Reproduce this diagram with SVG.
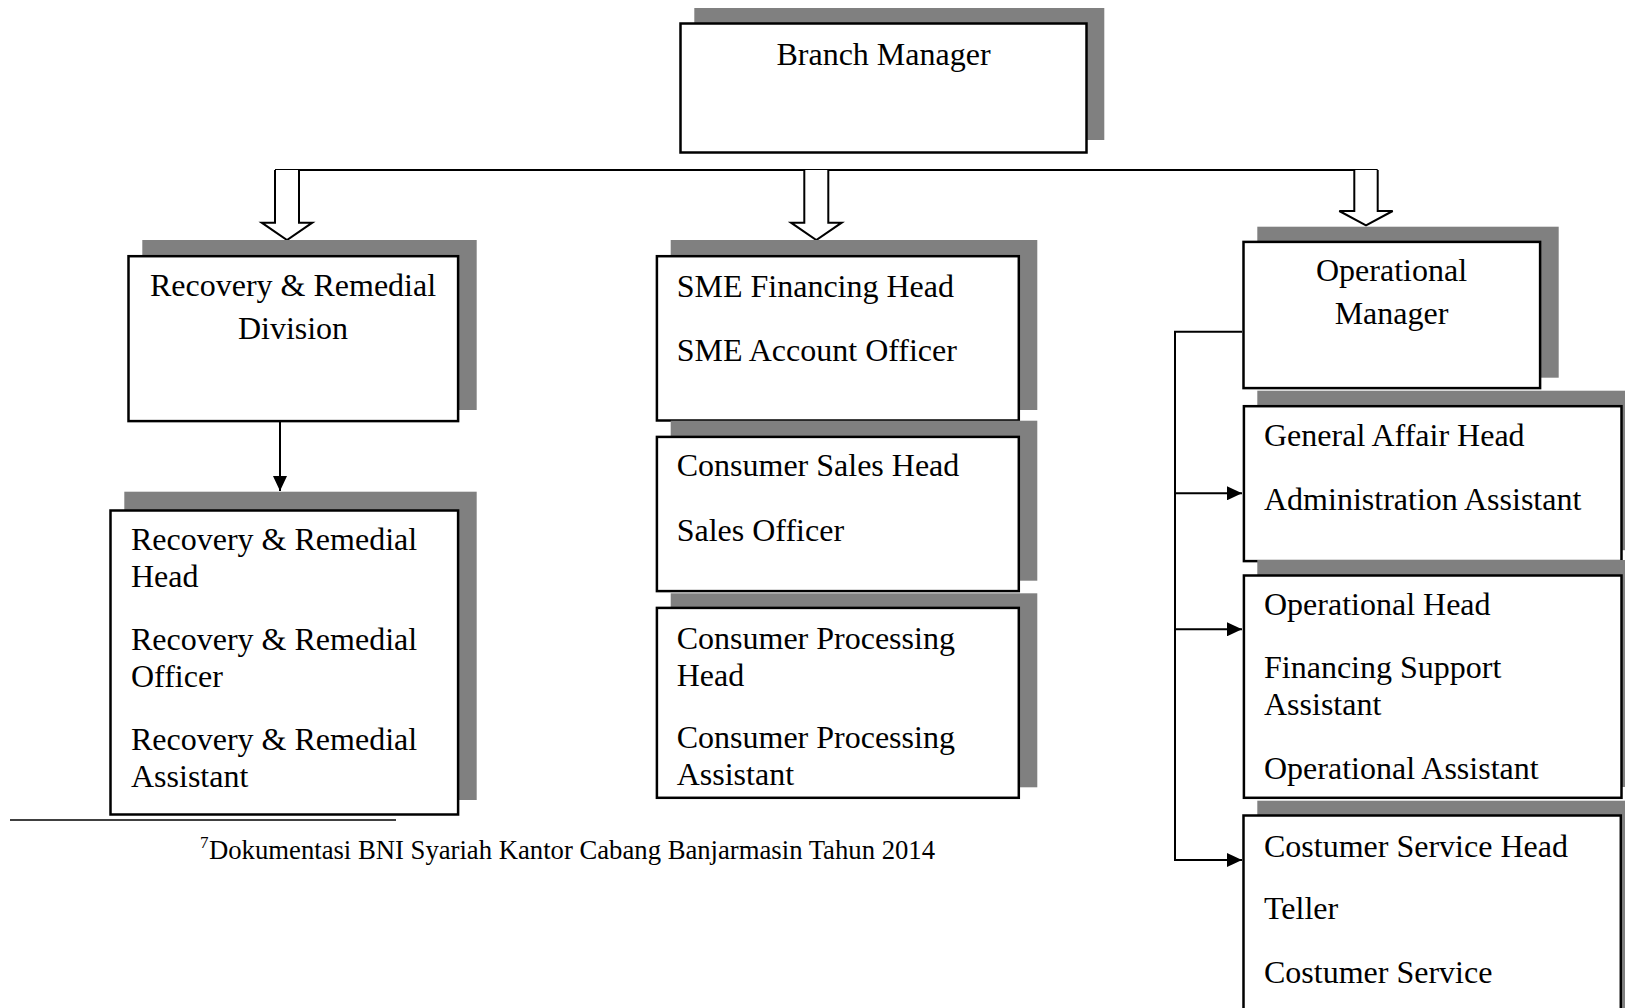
<svg xmlns="http://www.w3.org/2000/svg" width="1625" height="1008" viewBox="0 0 1625 1008">
<defs>
<style>
.sh{fill:#808080;stroke:none}
.bx{fill:#fff;stroke:#000;stroke-width:2.5}
.t{font-family:"Liberation Serif","Times New Roman",serif;font-size:32px;fill:#000}
.c{text-anchor:middle}
.ln{fill:none;stroke:#000;stroke-width:2}
.ha{fill:#fff;stroke:#000;stroke-width:2;stroke-linejoin:miter}
.fn{font-family:"Liberation Serif","Times New Roman",serif;fill:#000}
</style>
<marker id="ah" viewBox="0 0 15 14" refX="15" refY="7" markerWidth="15" markerHeight="14" markerUnits="userSpaceOnUse" orient="auto">
<path d="M0,0 L15,7 L0,14 z" fill="#000"/>
</marker>
</defs>
<rect width="1625" height="1008" fill="#fff"/>

<g id="connectors">
<line class="ln" x1="275" y1="170" x2="1377.7" y2="170"/>
<polyline class="ha" points="275,170 275,222.7 261.7,222.7 287,240 312.3,222.7 299,222.7 299,170"/>
<polyline class="ha" points="804.3,170 804.3,222.7 791,222.7 816.3,240 841.7,222.7 828.3,222.7 828.3,170"/>
<polyline class="ha" points="1354.3,170 1354.3,211 1339.3,211 1366,225.3 1392.7,211 1377.7,211 1377.7,170"/>
<line class="ln" x1="280" y1="422" x2="280" y2="491" marker-end="url(#ah)"/>
<polyline class="ln" points="1242,331.7 1175,331.7 1175,860"/>
<line class="ln" x1="1175" y1="493.3" x2="1242" y2="493.3" marker-end="url(#ah)"/>
<line class="ln" x1="1175" y1="629.3" x2="1242" y2="629.3" marker-end="url(#ah)"/>
<line class="ln" x1="1174" y1="860" x2="1242" y2="860" marker-end="url(#ah)"/>
</g>

<g id="branch-manager">
<rect class="sh" x="694.3" y="8" width="410" height="132"/>
<rect class="bx" x="680.5" y="23.5" width="406" height="129"/>
<text class="t c" x="883.5" y="64.5">Branch Manager</text>
</g>

<g id="recovery-division">
<rect class="sh" x="142.3" y="240" width="334.4" height="170"/>
<rect class="bx" x="128.5" y="256.2" width="329.6" height="164.9"/>
<text class="t c" x="293" y="296">Recovery &amp; Remedial</text>
<text class="t c" x="293" y="339">Division</text>
</g>

<g id="recovery-staff">
<rect class="sh" x="124.3" y="491.7" width="352.4" height="308.3"/>
<rect class="bx" x="110.5" y="510.5" width="347.6" height="304"/>
<text class="t" x="131" y="550.3">Recovery &amp; Remedial</text>
<text class="t" x="131" y="587">Head</text>
<text class="t" x="131" y="650.3">Recovery &amp; Remedial</text>
<text class="t" x="131" y="687">Officer</text>
<text class="t" x="131" y="750.3">Recovery &amp; Remedial</text>
<text class="t" x="131" y="787">Assistant</text>
</g>

<g id="sme">
<rect class="sh" x="670.7" y="240" width="366.6" height="170"/>
<rect class="bx" x="656.9" y="256.2" width="361.9" height="164.3"/>
<text class="t" x="676.7" y="297">SME Financing Head</text>
<text class="t" x="676.7" y="361">SME Account Officer</text>
</g>

<g id="consumer-sales">
<rect class="sh" x="670.7" y="420.7" width="366.6" height="160"/>
<rect class="bx" x="656.9" y="436.9" width="361.9" height="154.2"/>
<text class="t" x="676.7" y="475.5">Consumer Sales Head</text>
<text class="t" x="676.7" y="541">Sales Officer</text>
</g>

<g id="consumer-processing">
<rect class="sh" x="670.7" y="593.3" width="366.6" height="194"/>
<rect class="bx" x="656.9" y="607.9" width="361.9" height="189.9"/>
<text class="t" x="676.7" y="648.8">Consumer Processing</text>
<text class="t" x="676.7" y="685.5">Head</text>
<text class="t" x="676.7" y="747.5">Consumer Processing</text>
<text class="t" x="676.7" y="784.7">Assistant</text>
</g>

<g id="operational-manager">
<rect class="sh" x="1257.3" y="226.7" width="301.4" height="151"/>
<rect class="bx" x="1243.5" y="241.9" width="296.6" height="146.2"/>
<text class="t c" x="1391.5" y="281">Operational</text>
<text class="t c" x="1391.5" y="324">Manager</text>
</g>

<g id="general-affair">
<rect class="sh" x="1257.3" y="390.7" width="390" height="159.5"/>
<rect class="bx" x="1243.9" y="406.2" width="377.6" height="154.9"/>
<text class="t" x="1264" y="445.5">General Affair Head</text>
<text class="t" x="1264" y="509.5">Administration Assistant</text>
</g>

<g id="operational-head">
<rect class="sh" x="1257.3" y="560" width="390" height="227"/>
<rect class="bx" x="1243.9" y="575.5" width="377.6" height="222.3"/>
<text class="t" x="1264" y="615">Operational Head</text>
<text class="t" x="1264" y="678">Financing Support</text>
<text class="t" x="1264" y="715">Assistant</text>
<text class="t" x="1264" y="779">Operational Assistant</text>
</g>

<g id="customer-service">
<rect class="sh" x="1257.3" y="800.7" width="390" height="240"/>
<rect class="bx" x="1243.5" y="815.5" width="377.3" height="220"/>
<text class="t" x="1264" y="857">Costumer Service Head</text>
<text class="t" x="1264" y="919">Teller</text>
<text class="t" x="1264" y="982.5">Costumer Service</text>
</g>

<g id="footnote">
<line x1="10" y1="820" x2="396" y2="820" stroke="#000" stroke-width="1.5"/>
<text class="fn" x="200" y="848" font-size="17">7</text>
<text class="fn" x="209" y="858.5" font-size="26.7" textLength="726" lengthAdjust="spacingAndGlyphs">Dokumentasi BNI Syariah Kantor Cabang Banjarmasin Tahun 2014</text>
</g>
</svg>
